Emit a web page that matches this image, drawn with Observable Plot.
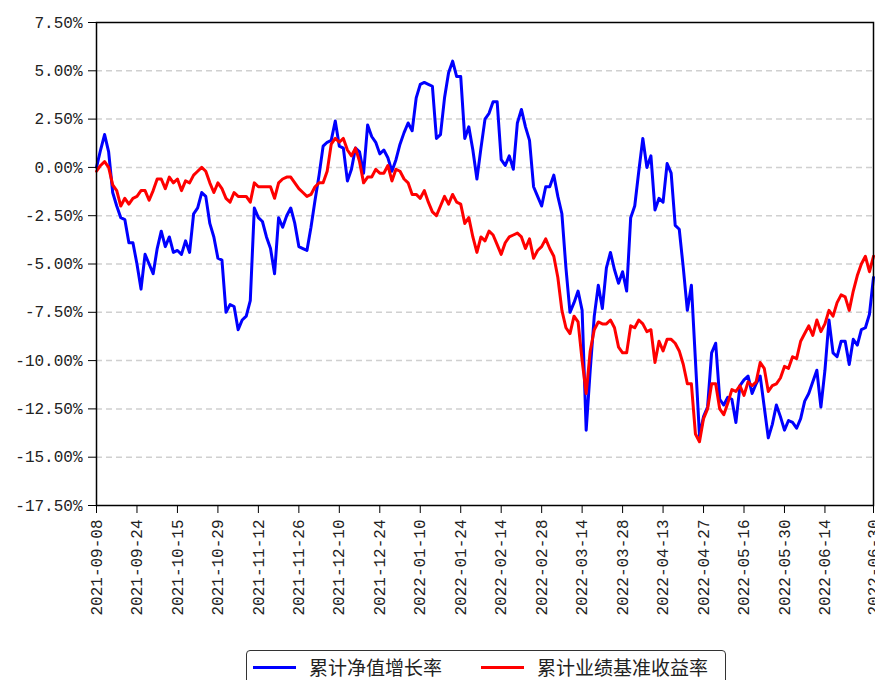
<!DOCTYPE html>
<html lang="zh">
<head>
<meta charset="UTF-8">
<title>累计净值增长率与业绩基准收益率</title>
<style>
  body {
    margin: 0;
    background: white;
  }
  #chart svg {
    display: block;
  }
  .legend {
    box-sizing: border-box;
    margin-left: 246px;
    margin-top: 10px;
    width: 480px;
    height: 40px;
    border: 1.5px solid #333;
    border-radius: 4px;
    padding: 6px 0 0 6px;
    display: flex;
    align-items: flex-start;
    font-family: "Noto Sans CJK SC", sans-serif;
    font-size: 19px;
    color: #222;
    line-height: 19px;
  }
  .legend .swatch {
    display: inline-block;
    width: 43px;
    height: 3px;
    margin-top: 9px;
    margin-right: 13px;
  }
  .legend .item2 {
    margin-left: 39px;
  }
</style>
</head>
<body>
<div id="chart"></div>
<div class="legend">
  <span class="swatch" style="background:#0000ff"></span><span>累计净值增长率</span>
  <span class="swatch item2" style="background:#ff0000"></span><span>累计业绩基准收益率</span>
</div>

<script src="https://cdn.jsdelivr.net/npm/d3@7"></script>
<script src="https://cdn.jsdelivr.net/npm/@observablehq/plot@0.6"></script>
<script>
// one value per trading day (%), 2021-09-08 .. 2022-06-30
const netValue = [
  0.0, 0.9, 1.7, 0.8, -1.3, -2.0, -2.6, -2.7, -3.9, -3.9,
  -5.0, -6.3, -4.5, -5.0, -5.5, -4.2, -3.3, -4.1, -3.6, -4.4,
  -4.3, -4.5, -3.8, -4.4, -2.4, -2.1, -1.3, -1.5, -2.9, -3.6,
  -4.7, -4.8, -7.5, -7.1, -7.2, -8.4, -7.9, -7.7, -6.9, -2.1,
  -2.6, -2.8, -3.6, -4.2, -5.5, -2.6, -3.1, -2.5, -2.1, -2.9,
  -4.1, -4.2, -4.3, -3.1, -1.7, -0.4, 1.1, 1.3, 1.4, 2.4,
  1.1, 1.0, -0.7, -0.1, 1.0, 0.8, -0.3, 2.2, 1.6, 1.3,
  0.7, 0.9, 0.5, -0.2, 0.4, 1.2, 1.8, 2.3, 1.9, 3.6,
  4.3, 4.4, 4.3, 4.2, 1.5, 1.7, 3.6, 4.9, 5.5, 4.7,
  4.7, 1.5, 2.1, 0.9, -0.6, 1.0, 2.5, 2.8, 3.4, 3.4,
  0.4, 0.1, 0.6, -0.1, 2.3, 3.0, 2.1, 1.4, -1.0, -1.5,
  -2.0, -1.0, -1.0, -0.4, -1.5, -2.4, -5.2, -7.5, -7.0, -6.4,
  -7.4, -13.6, -10.5, -7.7, -6.1, -7.3, -5.2, -4.4, -5.3, -6.0,
  -5.4, -6.4, -2.6, -2.0, -0.2, 1.5, 0.0, 0.6, -2.2, -1.6,
  -1.8, 0.2, -0.3, -3.0, -3.2, -5.2, -7.4, -6.1, -10.0, -13.9,
  -12.9, -12.4, -9.6, -9.1, -12.0, -12.3, -11.9, -12.0, -13.2, -11.3,
  -11.0, -10.8, -11.7, -11.2, -10.8, -12.4, -14.0, -13.3, -12.3, -12.9,
  -13.6, -13.1, -13.2, -13.5, -13.0, -12.1, -11.7, -11.1, -10.5, -12.4,
  -10.5, -7.9, -9.6, -9.8, -9.0, -9.0, -10.2, -8.9, -9.2, -8.4,
  -8.3, -7.6, -5.7
];

const benchmark = [
  -0.2, 0.1, 0.3, 0.0, -0.9, -1.2, -2.0, -1.6, -1.9, -1.6,
  -1.5, -1.2, -1.2, -1.7, -1.2, -0.6, -0.6, -1.1, -0.5, -0.8,
  -0.6, -1.2, -0.7, -0.8, -0.4, -0.2, 0.0, -0.2, -0.8, -1.3,
  -0.8, -1.1, -1.6, -1.8, -1.3, -1.5, -1.5, -1.5, -1.8, -0.8,
  -1.0, -1.0, -1.0, -1.0, -1.6, -0.8, -0.6, -0.5, -0.5, -0.8,
  -1.1, -1.3, -1.5, -1.4, -1.0, -0.8, -0.8, -0.2, 1.2, 1.5,
  1.3, 1.5, 0.9, 0.6, 1.0, 0.3, -0.8, -0.5, -0.5, -0.1,
  -0.3, -0.3, 0.1, -0.7, -0.1, -0.2, -0.6, -0.8, -1.4, -1.4,
  -1.6, -1.2, -1.8, -2.3, -2.5, -2.0, -1.5, -1.9, -1.4, -1.8,
  -1.9, -2.9, -2.6, -3.6, -4.4, -3.6, -3.8, -3.3, -3.5, -4.0,
  -4.5, -3.9, -3.6, -3.5, -3.4, -3.6, -4.2, -3.7, -4.7, -4.3,
  -4.1, -3.7, -4.2, -4.6, -5.7, -7.4, -8.3, -8.6, -7.7, -8.0,
  -10.0, -11.7, -9.5, -8.4, -8.0, -8.1, -8.1, -7.9, -8.3, -9.3,
  -9.6, -9.6, -8.2, -8.3, -7.9, -8.1, -8.5, -8.4, -10.1, -9.0,
  -9.5, -8.9, -8.9, -9.1, -9.5, -10.2, -11.2, -11.2, -13.8, -14.2,
  -13.0, -12.5, -11.2, -11.2, -12.5, -12.8, -12.2, -11.5, -11.6, -11.3,
  -11.8, -11.1, -11.3, -11.1, -10.1, -10.4, -11.6, -11.3, -11.2, -10.9,
  -10.3, -10.4, -9.8, -9.9, -9.0, -8.6, -8.2, -8.7, -7.9, -8.5,
  -8.1, -7.4, -7.7, -7.0, -6.6, -6.7, -7.4, -6.4, -5.6, -5.0,
  -4.6, -5.4, -4.6
];

const tickIndex = [0, 10, 20, 30, 40, 50, 60, 70, 80, 90, 100, 110, 120, 130, 140, 150, 160, 170, 180, 192];
const tickDates = [
  "2021-09-08", "2021-09-24", "2021-10-15", "2021-10-29", "2021-11-12",
  "2021-11-26", "2021-12-10", "2021-12-24", "2022-01-10", "2022-01-24",
  "2022-02-14", "2022-02-28", "2022-03-14", "2022-03-28", "2022-04-13",
  "2022-04-27", "2022-05-16", "2022-05-30", "2022-06-14", "2022-06-30"
];
const yTicks = [-17.5, -15, -12.5, -10, -7.5, -5, -2.5, 0, 2.5, 5, 7.5];
const gridTicks = [-15, -12.5, -10, -7.5, -5, -2.5, 0, 2.5, 5];

const tickFont = {fontFamily: "'Liberation Mono', 'DejaVu Sans Mono', monospace", fontSize: 16, fill: "#222"};

const chart = Plot.plot({
  width: 875,
  height: 640,
  marginLeft: 96,
  marginRight: 2,
  marginTop: 22,
  marginBottom: 135,
  style: {background: "white", overflow: "hidden"},
  x: {domain: [0, netValue.length - 1]},
  y: {domain: [-17.5, 7.5]},
  marks: [
    Plot.gridY(gridTicks, {stroke: "#d0d0d0", strokeOpacity: 1, strokeWidth: 1.5, strokeDasharray: "6,4"}),
    Plot.lineY(netValue, {stroke: "#0000ff", strokeWidth: 3}),
    Plot.lineY(benchmark, {stroke: "#ff0000", strokeWidth: 3}),
    Plot.frame({stroke: "black", strokeWidth: 1.5}),
    Plot.axisY(yTicks, {
      tickSize: 8, tickPadding: 6, stroke: "black",
      tickFormat: d => d.toFixed(2) + "%", label: null, ...tickFont
    }),
    Plot.axisX(tickIndex, {
      tickSize: 8, tickPadding: 6, tickRotate: -90, stroke: "black",
      tickFormat: (d, i) => tickDates[i], label: null, ...tickFont
    })
  ]
});

document.querySelector("#chart").append(chart);
</script>
</body>
</html>
